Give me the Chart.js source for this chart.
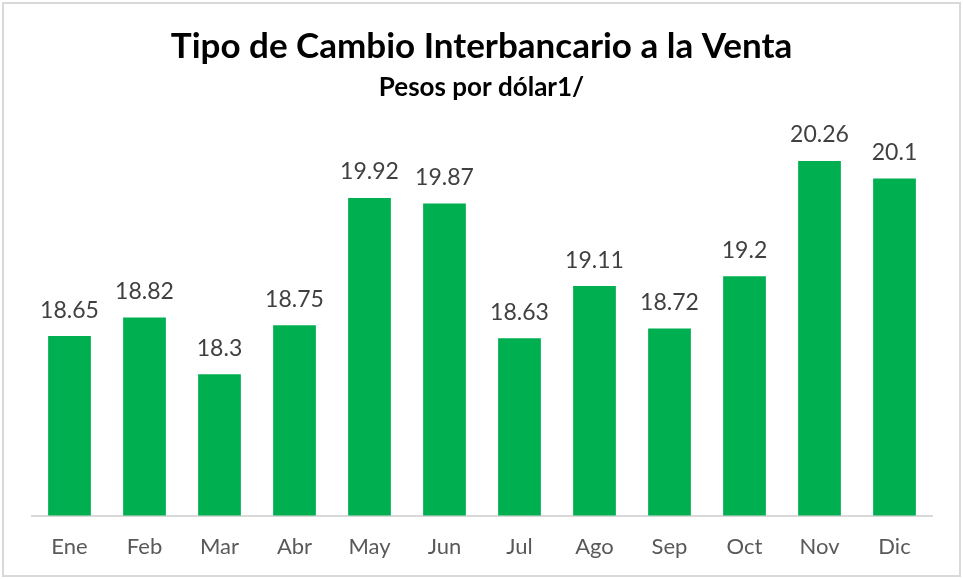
<!DOCTYPE html>
<html>
<head>
<meta charset="utf-8">
<script src="https://cdn.jsdelivr.net/npm/chart.js@4/dist/chart.umd.min.js"></script>
<style>
    html, body { margin: 0; padding: 0; background: #fff; }
    #wrap { width: 963px; height: 579px; position: relative; }
</style>
</head>
<body>
<div id="wrap"><canvas id="chart" width="963" height="579"></canvas></div>
<script>
// Chart data
const months = ['Ene', 'Feb', 'Mar', 'Abr', 'May', 'Jun', 'Jul', 'Ago', 'Sep', 'Oct', 'Nov', 'Dic'];
const rates = [18.65, 18.82, 18.3, 18.75, 19.92, 19.87, 18.63, 19.11, 18.72, 19.2, 20.26, 20.1];
const titleText = 'Tipo de Cambio Interbancario a la Venta';
const subtitleText = 'Pesos por dólar1/';

const FONT = 'Lato, "Open Sans", sans-serif';

// Border, titles and value labels
const decorPlugin = {
    id: 'decor',
    beforeDraw(chart) {
        const ctx = chart.ctx;
        ctx.save();
        ctx.fillStyle = '#fff';
        ctx.fillRect(0, 0, chart.width, chart.height);
        ctx.strokeStyle = '#d9d9d9';
        ctx.lineWidth = 2;
        ctx.strokeRect(3, 3, chart.width - 6, chart.height - 6);
        ctx.restore();
    },
    afterDatasetsDraw(chart) {
        const ctx = chart.ctx;
        ctx.save();
        ctx.textAlign = 'center';
        ctx.textBaseline = 'middle';
        ctx.fillStyle = '#000';
        ctx.font = 'bold 35px ' + FONT;
        ctx.fillText(titleText, chart.width / 2, 47);
        ctx.font = 'bold 26px ' + FONT;
        ctx.fillText(subtitleText, chart.width / 2, 88);

        ctx.fillStyle = '#404040';
        ctx.font = '23px ' + FONT;
        const meta = chart.getDatasetMeta(0);
        meta.data.forEach((bar, i) => {
            ctx.fillText(String(rates[i]), bar.x, bar.y - 26);
        });
        ctx.restore();
    }
};

const ctx = document.getElementById('chart').getContext('2d');
new Chart(ctx, {
    type: 'bar',
    data: {
        labels: months,
        datasets: [{
            data: rates,
            backgroundColor: '#00b050',
            barPercentage: 0.57,
            categoryPercentage: 1
        }]
    },
    options: {
        responsive: false,
        animation: false,
        layout: {
            padding: { top: 124, left: 32, right: 31, bottom: 1 }
        },
        plugins: {
            legend: { display: false },
            title: { display: false },
            tooltip: { enabled: false }
        },
        scales: {
            x: {
                grid: { display: false, drawTicks: false },
                border: { display: true, color: '#d9d9d9', width: 2 },
                ticks: {
                    color: '#595959',
                    padding: 18,
                    font: { family: FONT, size: 22 }
                }
            },
            y: {
                display: false,
                min: 17,
                max: 20.6
            }
        }
    },
    plugins: [decorPlugin]
});
</script>
</body>
</html>
